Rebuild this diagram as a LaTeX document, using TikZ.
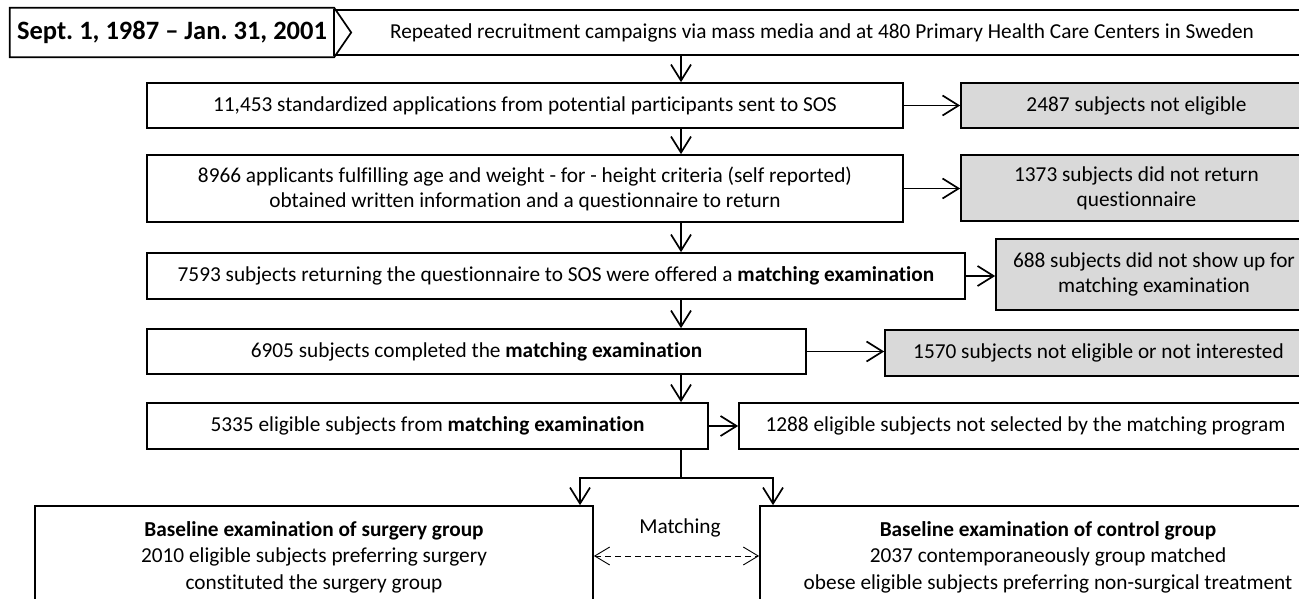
\documentclass[tikz,border=0pt]{standalone}
\usepackage{fontspec}
\setmainfont[Ligatures={TeX,NoCommon}]{Carlito}
\usetikzlibrary{arrows.meta}
\definecolor{boxgrey}{RGB}{217,217,217}
\frenchspacing

\begin{document}
\begin{tikzpicture}[x=1pt, y=-1pt,
    box/.style={draw, line width=1.7pt, align=center, inner sep=0pt, font=\fontsize{21.3}{25}\selectfont},
    greybox/.style={box, fill=boxgrey},
    arr/.style={-{Straight Barb[length=16pt, width=20pt]}, line width=1.7pt},
    dasharr/.style={{Straight Barb[length=15pt, width=18pt]}-{Straight Barb[length=15pt, width=18pt]}, line width=0.9pt, dash pattern=on 6pt off 4pt}]
    \useasboundingbox (0,0) rectangle (1299,599);
    \clip (0,0) rectangle (1299,599);
    \coordinate (stem) at (681,0);
    \node[box, minimum width=976pt, minimum height=45pt] (recruit) at (822,32.5) {Repeated recruitment campaigns via mass media and at 480 Primary Health Care Centers in Sweden};
    \node[minimum width=324pt, minimum height=49pt, inner sep=0pt, font=\bfseries\fontsize{26.5}{30}\selectfont] (period) at (172,32.5) {Sept. 1, 1987 -- Jan. 31, 2001};
    \draw[line width=1.7pt] (period.north west) -- (period.north east) -- ([xshift=17pt]period.east) -- (period.south east) -- (period.south west) -- cycle;
    \node[box, minimum width=756pt, minimum height=45pt] (apply) at (525,105.5) {11,453 standardized applications from potential participants sent to SOS};
    \node[greybox, minimum width=351pt, minimum height=45pt] (noteligible) at (1136.5,105.5) {2487 subjects not eligible};
    \node[box, minimum width=756pt, minimum height=67pt] (criteria) at (525,188.5) {8966 applicants fulfilling age and weight - for - height criteria (self reported)\\obtained written information and a questionnaire to return};
    \node[greybox, minimum width=351pt, minimum height=66pt] (noreturn) at (1136.5,188) {1373 subjects did not return\\questionnaire};
    \node[box, minimum width=818pt, minimum height=46pt] (offered) at (556,276) {7593 subjects returning the questionnaire to SOS were offered a \textbf{matching examination}};
    \node[greybox, minimum width=316pt, minimum height=71pt] (noshow) at (1154,274.5) {688 subjects did not show up for\\matching examination};
    \node[box, minimum width=659pt, minimum height=45pt] (completed) at (476.5,351.5) {6905 subjects completed the \textbf{matching examination}};
    \node[greybox, minimum width=427pt, minimum height=46pt] (notinterested) at (1098.5,353) {1570 subjects not eligible or not interested};
    \node[box, minimum width=561pt, minimum height=46pt] (eligible) at (427.5,426) {5335 eligible subjects from \textbf{matching examination}};
    \node[box, minimum width=573pt, minimum height=46pt] (notselected) at (1025.5,426) {1288 eligible subjects not selected by the matching program};
    \node[box, minimum width=558pt, minimum height=102pt, font=\fontsize{21.3}{26.5}\selectfont] (surgery) at (314,557) {\textbf{Baseline examination of surgery group}\\2010 eligible subjects preferring surgery\\constituted the surgery group};
    \node[box, minimum width=576pt, minimum height=102pt, font=\fontsize{21.3}{26.5}\selectfont] (control) at (1048,557) {\textbf{Baseline examination of control group}\\2037 contemporaneously group matched\\obese eligible subjects preferring non-surgical treatment};
    \node[font=\fontsize{21.3}{25}\selectfont] (matching) at (680,528) {Matching};
    \coordinate (armL) at (580,478);
    \coordinate (armR) at (773,478);
    \draw[arr] (recruit.south -| stem) -- (apply.north -| stem);
    \draw[arr] (apply.south -| stem) -- (criteria.north -| stem);
    \draw[arr] (criteria.south -| stem) -- (offered.north -| stem);
    \draw[arr] (offered.south -| stem) -- (completed.north -| stem);
    \draw[arr] (completed.south -| stem) -- (eligible.north -| stem);
    \draw[arr] (apply.east) -- (noteligible.west);
    \draw[arr] (criteria.east) -- (noreturn.west |- criteria.east);
    \draw[arr] (offered.east) -- (noshow.west |- offered.east);
    \draw[arr] (completed.east) -- (notinterested.west |- completed.east);
    \draw[arr] (eligible.east) -- (notselected.west);
    \draw[arr] (eligible.south -| stem) |- (armL) -- (surgery.north -| armL);
    \draw[arr] (eligible.south -| stem) |- (armR) -- (control.north -| armR);
    \draw[dasharr] ([yshift=1pt]surgery.east) -- ([yshift=1pt]control.west);
\end{tikzpicture}
\end{document}
